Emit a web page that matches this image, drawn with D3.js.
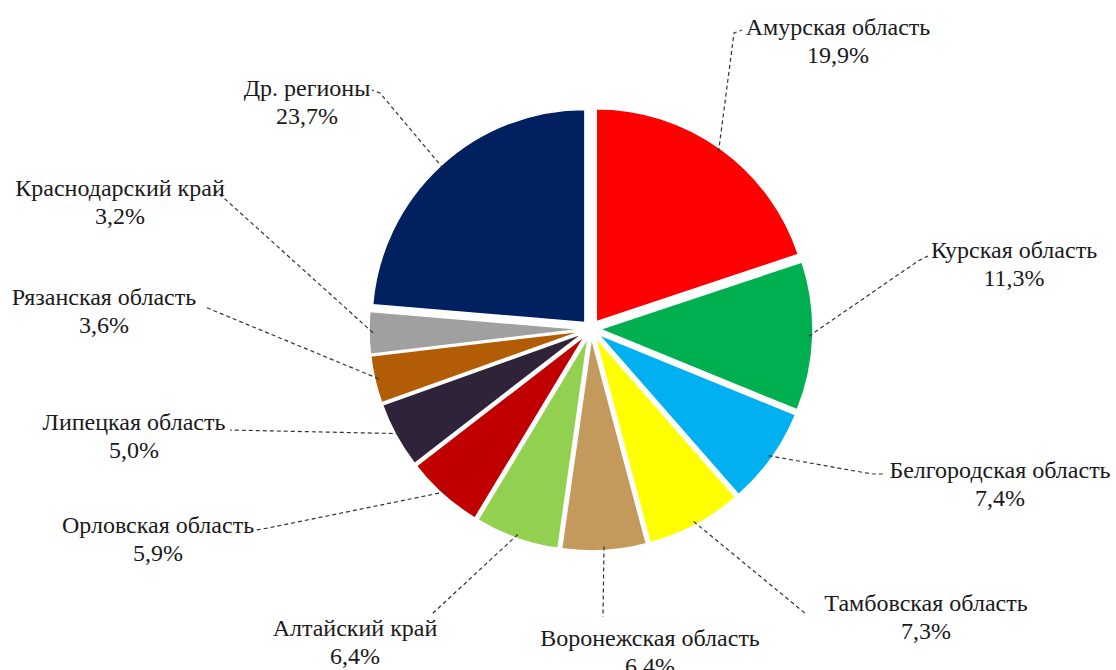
<!DOCTYPE html>
<html>
<head>
<meta charset="utf-8">
<script src="https://cdn.jsdelivr.net/npm/d3@7"></script>
<style>
  body { margin: 0; background: #fff; }
</style>
</head>
<body>
<div id="chart"></div>
<script>
// data
var regions = ["Амурская область", "Курская область", "Белгородская область", "Тамбовская область",
               "Воронежская область", "Алтайский край", "Орловская область", "Липецкая область",
               "Рязанская область", "Краснодарский край", "Др. регионы"];
var shares = [19.9, 11.3, 7.4, 7.3, 6.4, 6.4, 5.9, 5.0, 3.6, 3.2, 23.7];
var sliceColors = ["#ff0000", "#00b050", "#00b0f0", "#ffff00", "#c49a5c", "#92d050",
                   "#c00000", "#2e2338", "#b35c06", "#a0a0a0", "#002060"];

// layout of the labels: centre of first text line, and where the leader meets the label
var labelPos = [[838, 27], [1014, 250], [1000, 470], [926, 603], [650, 638], [355, 628],
                [158, 525], [134, 422], [104, 297], [120, 188], [307, 88]];
var leaderEnd = [[734, 33], [918, 261], [872, 474], [806, 614], [603, 617], [432, 614],
                 [268, 528], [230, 430], [205, 307], [215, 190], [380, 93]];
var leaderTick = [[742, 30], [928, 256], [886, 474], null, null, null,
                  [256, 530], null, null, null, [372, 90]];

var width = 1116, height = 670;
var cx = 591, cy = 329, radius = 213, explode = 9;

var svg = d3.select("#chart").append("svg").attr("width", width).attr("height", height);

var pie = d3.pie().sort(null).value(function(d) { return d; });
var arcs = pie(shares);
var arc = d3.arc().innerRadius(0).outerRadius(radius);

var g = svg.append("g").attr("transform", "translate(" + cx + "," + cy + ")");

//each slice is pushed out along its middle angle
var offset = function(d, r)
{
    let a = (d.startAngle + d.endAngle) / 2;
    return [r * Math.sin(a), -r * Math.cos(a)];
}

g.selectAll("path.slice").data(arcs).enter().append("path")
    .attr("class", "slice")
    .attr("d", arc)
    .attr("transform", function(d) { let o = offset(d, explode); return "translate(" + o[0] + "," + o[1] + ")"; })
    .attr("fill", function(d, i) { return sliceColors[i]; })
    .attr("stroke", "#fff")
    .attr("stroke-width", 1.5);

//leader lines
var line = d3.line();
arcs.forEach(function(d, i)
{
    let p = offset(d, radius + explode - 4);
    let pts = [[cx + p[0], cy + p[1]], leaderEnd[i]];
    if (leaderTick[i] != null) pts.push(leaderTick[i]);
    svg.append("path").attr("d", line(pts))
        .attr("fill", "none").attr("stroke", "#333")
        .attr("stroke-width", 1.2).attr("stroke-dasharray", "4,3");
});

//labels
regions.forEach(function(name, i)
{
    let t = svg.append("text").attr("text-anchor", "middle")
        .attr("font-family", "'Liberation Serif'")
        .attr("font-size", 24).attr("fill", "#1a1a1a");
    t.append("tspan").attr("x", labelPos[i][0]).attr("y", labelPos[i][1] + 8).text(name);
    t.append("tspan").attr("x", labelPos[i][0]).attr("y", labelPos[i][1] + 36)
        .text(d3.format(".1f")(shares[i]).replace(".", ",") + "%");
});
</script>
</body>
</html>
